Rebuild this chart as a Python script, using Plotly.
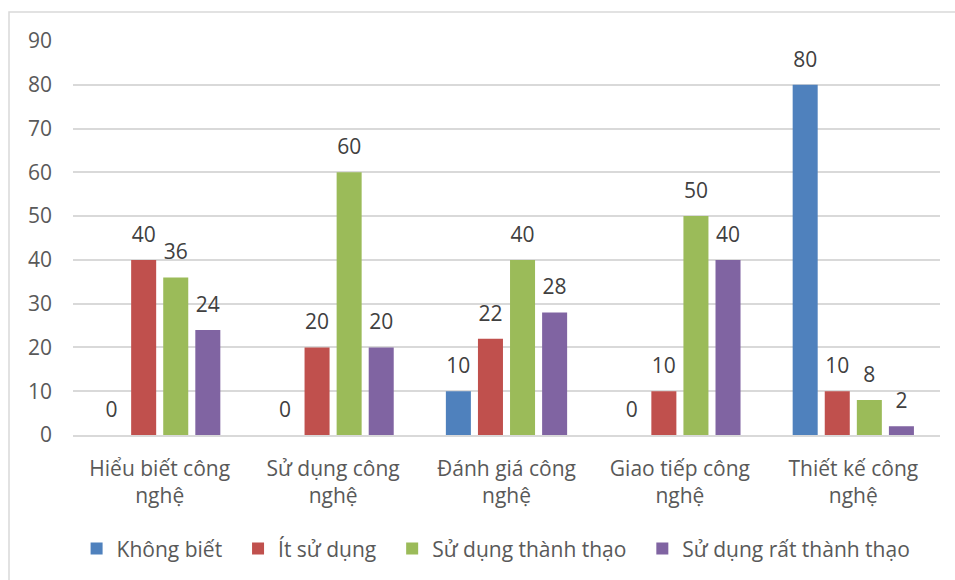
import plotly.graph_objects as go

categories = ["Hiểu biết công<br>nghệ", "Sử dụng công<br>nghệ", "Đánh giá công<br>nghệ",
              "Giao tiếp công<br>nghệ", "Thiết kế công<br>nghệ"]
series_names = ["Không biết", "Ít sử dụng", "Sử dụng thành thạo", "Sử dụng rất thành thạo"]
khong_biet = [0, 0, 10, 0, 80]
it_su_dung = [40, 20, 22, 10, 10]
thanh_thao = [36, 60, 40, 50, 8]
rat_thanh_thao = [24, 20, 28, 40, 2]
colors = ["#4F81BD", "#C0504D", "#9BBB59", "#8064A2"]
y_ticks = [0, 10, 20, 30, 40, 50, 60, 70, 80, 90]

FONT = "Open Sans"
FS = 21
PAD = "\u00a0\u00a0"  # extra spacing between legend entries
all_series = [khong_biet, it_su_dung, thanh_thao, rat_thanh_thao]
fig = go.Figure()
for i, (name, vals, col) in enumerate(zip(series_names, all_series, colors)):
    fig.add_trace(go.Bar(
        x=categories, y=vals, name=name + (PAD if i < len(series_names) - 1 else ""),
        marker=dict(color=col, line=dict(width=0)),
    ))
# data labels, placed with the same grouping as the bars
for name, vals in zip(series_names, all_series):
    fig.add_trace(go.Scatter(
        x=categories, y=vals, mode="markers+text", showlegend=False, hoverinfo="skip",
        marker=dict(size=19, opacity=0),
        text=[str(v) for v in vals], textposition="top center",
        textfont=dict(family=FONT, size=FS, color="#404040"),
        cliponaxis=False,
    ))

fig.update_layout(
    width=955, height=580,
    margin=dict(l=73, r=15, t=41, b=144),
    paper_bgcolor="white", plot_bgcolor="white",
    barmode="group", bargap=0.26, bargroupgap=0.22,
    scattermode="group", scattergap=0.26,
    font=dict(family=FONT, size=FS, color="#595959"),
    showlegend=True,
    legend=dict(orientation="h", x=0.488, xanchor="center", y=-0.286, yanchor="middle",
                font=dict(family=FONT, size=FS, color="#595959"),
                itemwidth=30, traceorder="normal"),
    shapes=[dict(type="rect", xref="paper", yref="paper", xsizemode="pixel", ysizemode="pixel",
                 x0=-64, x1=900, y0=-560, y1=29, xanchor=0, yanchor=1,
                 line=dict(color="#D9D9D9", width=1.5), fillcolor="rgba(0,0,0,0)", layer="below")],
)
fig.update_yaxes(range=[0, 90], tickvals=y_ticks, showgrid=True, gridcolor="#D9D9D9", gridwidth=1.5,
                 zeroline=False, showline=False, ticks="", ticklabelstandoff=20, automargin=False,
                 tickfont=dict(family=FONT, size=FS, color="#595959"))
fig.update_xaxes(showgrid=False, showline=True, linecolor="#D9D9D9", linewidth=1.5, ticks="",
                 ticklabelstandoff=14, automargin=False,
                 tickfont=dict(family=FONT, size=FS, color="#595959"))

fig.write_html("out.html")
